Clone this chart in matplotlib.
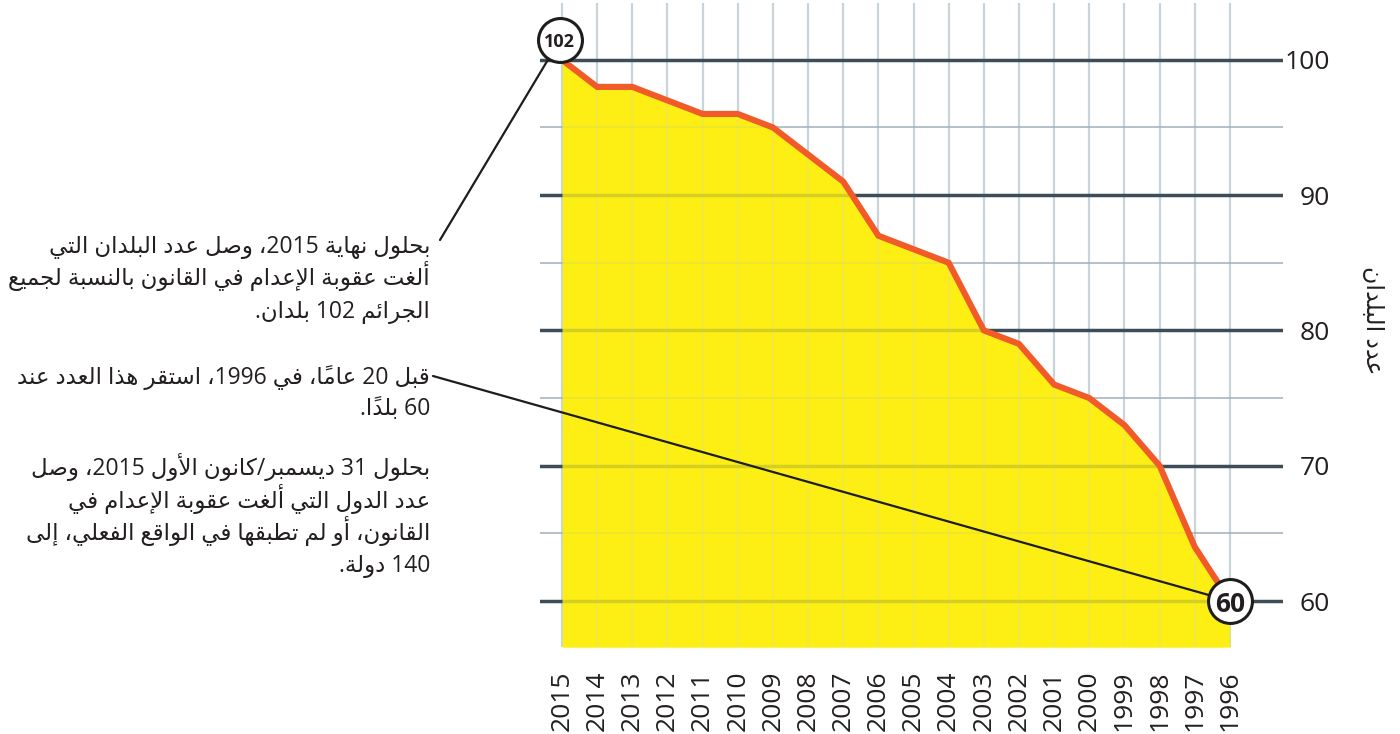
import matplotlib
matplotlib.use("Agg")
import matplotlib.pyplot as plt
from matplotlib.ticker import FixedLocator

# ---------------- data ----------------
years = [2015, 2014, 2013, 2012, 2011, 2010, 2009, 2008, 2007, 2006,
         2005, 2004, 2003, 2002, 2001, 2000, 1999, 1998, 1997, 1996]
countries = [100, 98, 98, 97, 96, 96, 95, 93, 91, 87,
             86, 85, 80, 79, 76, 75, 73, 70, 64, 60]
year_labels = [str(y) for y in years]
y_major = [60, 70, 80, 90, 100]
y_minor = [65, 75, 85, 95]
y_labels = ["60", "70", "80", "90", "100"]
start_badge = "102"
end_badge = "60"
y_title = "عدد البلدان"
notes = [
    ["بحلول نهاية 2015، وصل عدد البلدان التي",
     "ألغت عقوبة الإعدام في القانون بالنسبة لجميع",
     "الجرائم 102 بلدان."],
    ["قبل 20 عاماً، في 1996، استقر هذا العدد عند",
     "60 بلداً."],
    ["بحلول 31 ديسمبر/كانون الأول 2015، وصل",
     "عدد الدول التي ألغت عقوبة الإعدام في",
     "القانون، أو لم تطبقها في الواقع الفعلي، إلى",
     "140 دولة."],
]

# ------------- minimal Arabic shaping + RTL ordering -------------
RIGHT = {0x0622: 0xFE81, 0x0623: 0xFE83, 0x0624: 0xFE85, 0x0625: 0xFE87,
         0x0627: 0xFE8D, 0x0629: 0xFE93, 0x062F: 0xFEA9, 0x0630: 0xFEAB,
         0x0631: 0xFEAD, 0x0632: 0xFEAF, 0x0648: 0xFEED, 0x0649: 0xFEEF}
DUAL = {0x0626: 0xFE89, 0x0628: 0xFE8F, 0x062A: 0xFE95, 0x062B: 0xFE99,
        0x062C: 0xFE9D, 0x062D: 0xFEA1, 0x062E: 0xFEA5, 0x0633: 0xFEB1,
        0x0634: 0xFEB5, 0x0635: 0xFEB9, 0x0636: 0xFEBD, 0x0637: 0xFEC1,
        0x0638: 0xFEC5, 0x0639: 0xFEC9, 0x063A: 0xFECD, 0x0641: 0xFED1,
        0x0642: 0xFED5, 0x0643: 0xFED9, 0x0644: 0xFEDD, 0x0645: 0xFEE1,
        0x0646: 0xFEE5, 0x0647: 0xFEE9, 0x064A: 0xFEF1}
LAMALEF = {0x0622: 0xFEF5, 0x0623: 0xFEF7, 0x0625: 0xFEF9, 0x0627: 0xFEFB}
MARKS = set(range(0x064B, 0x0653))


def shape_rtl(s):
    items = []
    i = 0
    while i < len(s):
        c = s[i]
        if ord(c) in MARKS and items:
            items[-1][2].append(c)
            i += 1
            continue
        if c == "\u0644":
            j = i + 1
            mk = []
            while j < len(s) and ord(s[j]) in MARKS:
                mk.append(s[j])
                j += 1
            if j < len(s) and ord(s[j]) in LAMALEF:
                items.append(["LA", s[j], mk])
                i = j + 1
                continue
        items.append(["C", c, []])
        i += 1

    def jt(it):
        if it is None:
            return None
        if it[0] == "LA":
            return "R"
        o = ord(it[1])
        if o in DUAL:
            return "D"
        if o in RIGHT:
            return "R"
        if o == 0x0621:
            return "U"
        return None

    clusters = []
    for k, it in enumerate(items):
        t = jt(it)
        pv = jt(items[k - 1]) if k > 0 else None
        nx = jt(items[k + 1]) if k + 1 < len(items) else None
        jp = t in ("D", "R") and pv == "D"
        jn = t == "D" and nx in ("D", "R")
        o = ord(it[1])
        if it[0] == "LA":
            g = chr(LAMALEF[o] + (1 if jp else 0))
        elif t == "D":
            g = chr(DUAL[o] + (3 if (jp and jn) else 1 if jp else 2 if jn else 0))
        elif t == "R":
            g = chr(RIGHT[o] + (1 if jp else 0))
        elif t == "U":
            g = "\uFE80"
        else:
            g = it[1]
        clusters.append((g + "".join(it[2]), it[1].isdigit()))

    tokens = []
    for txt, dig in clusters:
        if dig and tokens and tokens[-1][1]:
            tokens[-1][0] += txt
        else:
            tokens.append([txt, dig])
    return "".join(t[0] for t in reversed(tokens))


# ---------------- figure ----------------
W, H = 1400, 734
fig = plt.figure(figsize=(W / 100, H / 100), dpi=100)
ax = fig.add_axes([540 / W, 1 - 647 / H, 743 / W, 644 / H])

YEL = "#fdef14"
ORG = "#f15a29"
TXT = "#231f20"

ax.set_xlim(2015.626, 1994.49)
ax.set_ylim(56.6, 104.2)

ax.fill_between(years, countries, 56.6, color=YEL, lw=0, zorder=0.2)
ax.fill_between(years, countries, 56.6, color=YEL, lw=0, alpha=0.8, zorder=0.8)
ax.plot(years, countries, color=ORG, lw=4.4, zorder=3, solid_joinstyle="miter")

ax.set_axisbelow(True)
ax.set_xticks(years)
ax.set_xticklabels(year_labels, rotation=90, fontsize=19, family="Open Sans", color=TXT)
ax.yaxis.tick_right()
ax.set_yticks(y_major)
ax.set_yticklabels(y_labels, fontsize=19, family="Open Sans", color=TXT)
ax.yaxis.set_minor_locator(FixedLocator(y_minor))
for lab in ax.get_yticklabels():
    lab.set_horizontalalignment("right")
ax.tick_params(axis="y", which="both", length=0, pad=34)
ax.tick_params(axis="x", which="both", length=0, pad=17)

ax.grid(axis="x", which="major", color="#c9d4da", lw=1.6)
ax.grid(axis="y", which="major", color="#3d4d58", lw=2.5)
ax.grid(axis="y", which="minor", color="#9fb0ba", lw=1.1)
for sp in ax.spines.values():
    sp.set_visible(False)

# y title on the right
ax.set_ylabel(shape_rtl(y_title), rotation=270, fontsize=17,
              family=["Open Sans", "DejaVu Sans"], color=TXT, va="center", ha="center")
ax.yaxis.set_label_position("right")
ax.yaxis.set_label_coords((1384 - 540) / 743, (647 - 320) / 644)

# badges and connector lines
top_xy = (2015.06, 101.48)
end_xy = (years[-1], countries[-1])
ax.annotate("", xy=top_xy, xycoords="data",
            xytext=(440 / W, 1 - 240 / H), textcoords="figure fraction",
            arrowprops=dict(arrowstyle="-", lw=1.6, color="#1d1d1b",
                            shrinkA=0, shrinkB=0), zorder=4, annotation_clip=False)
ax.annotate("", xy=end_xy, xycoords="data",
            xytext=(433 / W, 1 - 376 / H), textcoords="figure fraction",
            arrowprops=dict(arrowstyle="-", lw=1.6, color="#1d1d1b",
                            shrinkA=0, shrinkB=0), zorder=4, annotation_clip=False)
ax.scatter([top_xy[0], end_xy[0]], [top_xy[1], end_xy[1]], s=1000, c="white",
           edgecolors="#1d1d1b", linewidths=2.2, zorder=5, clip_on=False)
ax.text(top_xy[0], top_xy[1], start_badge, ha="center", va="center_baseline",
        fontsize=13, fontweight="bold", family="Open Sans", color=TXT, zorder=6)
ax.text(end_xy[0], end_xy[1], end_badge, ha="center", va="center_baseline",
        fontsize=19, fontweight="bold", family="Open Sans", color=TXT, zorder=6)

# notes on the left
centers = [[245, 277.5, 310.5], [375.5, 408], [467, 500, 532.5, 564.5]]
for para, cs in zip(notes, centers):
    for line, cy in zip(para, cs):
        fig.text(430 / W, 1 - (cy + 8) / H, shape_rtl(line), ha="right", va="baseline",
                 fontsize=16.5, family=["Open Sans", "DejaVu Sans"], color=TXT)

fig.savefig("out.png", dpi=100)
